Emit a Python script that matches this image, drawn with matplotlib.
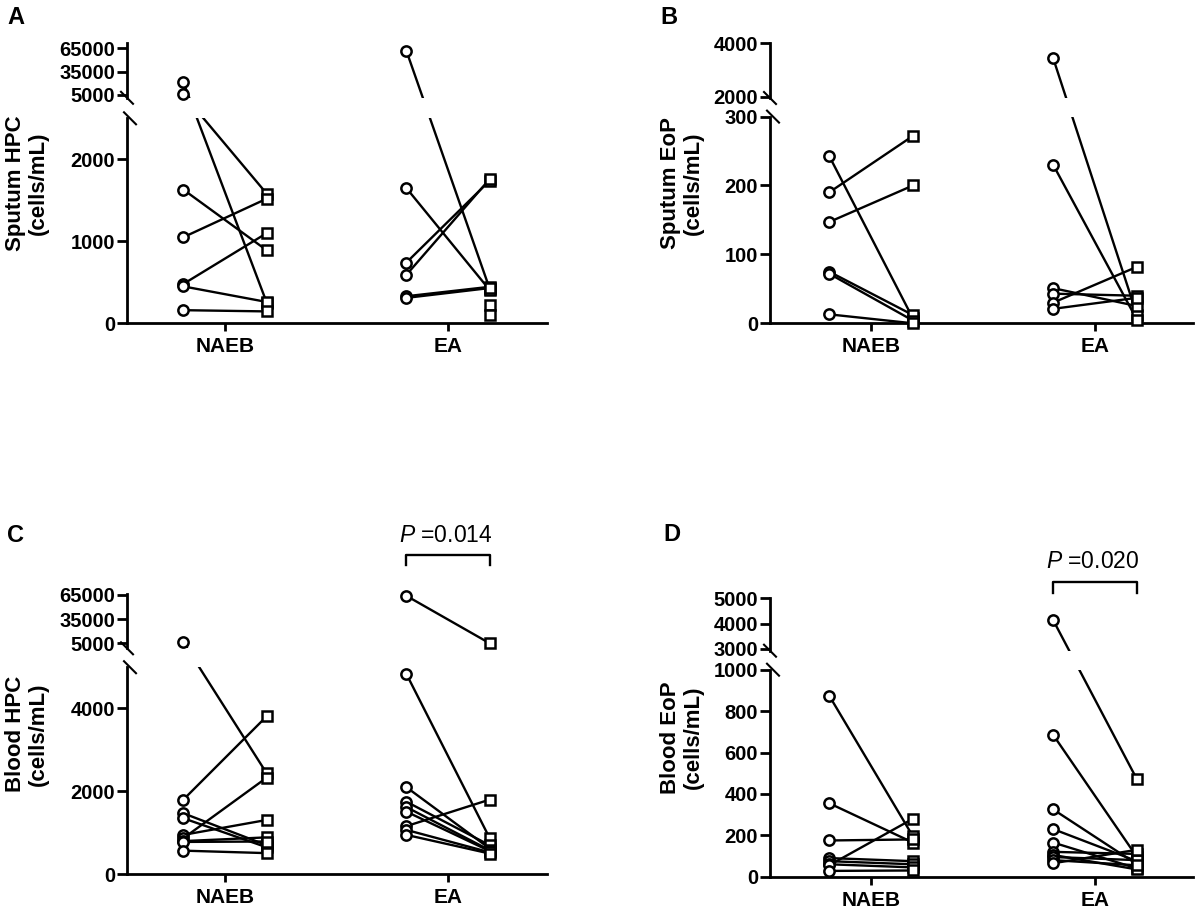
import numpy as np
import matplotlib
matplotlib.use('Agg')
import matplotlib.pyplot as plt
from matplotlib.lines import Line2D
from matplotlib.patches import Rectangle
from matplotlib.ticker import FixedLocator, FixedFormatter

plt.rcParams['font.family'] = ['Liberation Sans', 'DejaVu Sans']
plt.rcParams['mathtext.fontset'] = 'custom'
plt.rcParams['mathtext.it'] = 'Liberation Sans:italic'
plt.rcParams['mathtext.rm'] = 'Liberation Sans'

nan = np.nan
groups = ['NAEB', 'EA']

# ---- Panel A: Sputum HPC ----
a_naeb_pre = [21000, 5400, 1630, 1050, 480, 450, 160]
a_naeb_post = [250, 1580, 890, 1520, 1100, 260, 145]
a_ea_pre = [62000, 1650, 740, 590, 330, 310, nan, nan]
a_ea_post = [420, 405, 1740, 1760, 445, 430, 220, 100]
a_ticks_low = [0, 1000, 2000]
a_ticks_up = [5000, 35000, 65000]

# ---- Panel B: Sputum EoP ----
b_naeb_pre = [243, 190, 147, 75, 72, 13]
b_naeb_post = [7, 272, 200, 12, 4, 0]
b_ea_pre = [3440, 230, 51, 43, 30, 21]
b_ea_post = [12, 5, 25, 40, 82, 37]
b_ticks_low = [0, 100, 200, 300]
b_ticks_up = [2000, 4000]

# ---- Panel C: Blood HPC ----
c_naeb_pre = [6200, 1800, 1470, 1350, 950, 870, 800, 780, 570]
c_naeb_post = [2430, 3810, 700, 650, 1310, 2330, 890, 790, 510]
c_ea_pre = [64000, 4830, 2100, 1750, 1620, 1510, 1160, 1070, 950]
c_ea_post = [5000, 870, 620, 700, 580, 560, 1800, 530, 500]
c_ticks_low = [0, 2000, 4000]
c_ticks_up = [5000, 35000, 65000]
c_pvalue = 'P =0.014'

# ---- Panel D: Blood EoP ----
d_naeb_pre = [875, 355, 175, 90, 75, 60, 55, 28]
d_naeb_post = [195, 165, 180, 75, 60, 45, 280, 30]
d_ea_pre = [4130, 685, 325, 230, 165, 120, 105, 95, 80, 65]
d_ea_post = [470, 95, 60, 75, 40, 110, 35, 80, 55, 130]
d_ticks_low = [0, 200, 400, 600, 800, 1000]
d_ticks_up = [3000, 4000, 5000]
d_pvalue = 'P =0.020'

W, Hf = 1196, 908
fig = plt.figure(figsize=(W / 100, Hf / 100), dpi=100)

OFF = 0.187
LW = 1.7
SPW = 2.0


def make_funcs(lo_top, lo_rate, up_ref, up_ref_h, up_rate, T):
    big = 1e7
    xs = np.array([0.0, lo_top, T, big])
    hs = np.array([0.0, lo_top * lo_rate,
                   up_ref_h + (T - up_ref) * up_rate,
                   up_ref_h + (big - up_ref) * up_rate])

    def fwd(v):
        v = np.asarray(v, dtype=float)
        return np.interp(v, xs, hs)

    def inv(p):
        p = np.asarray(p, dtype=float)
        return np.interp(p, hs, xs)
    return fwd, inv


def panel(rect, pre_n, post_n, pre_e, post_e, scale, ticks_low, ticks_up,
          H, up_start_h, ylabel, xlim, label_x, letter, letter_pos, pval=None):
    l, b, w, h = rect
    ax = fig.add_axes([l / W, b / Hf, w / W, h / Hf])
    fwd, inv = make_funcs(*scale)
    ax.set_yscale('function', functions=(fwd, inv))
    ax.set_ylim(0, inv(H))
    ax.set_xlim(*xlim)
    lo_top = scale[0]
    lo_h = fwd(lo_top)

    for gi, (pre, post) in enumerate([(pre_n, post_n), (pre_e, post_e)]):
        pre = np.asarray(pre, float)
        post = np.asarray(post, float)
        for p0, p1 in zip(pre, post):
            if not (np.isnan(p0) or np.isnan(p1)):
                ax.plot([gi - OFF, gi + OFF], [p0, p1], '-', color='black',
                        lw=LW, zorder=2, solid_capstyle='butt')
        ax.plot(np.full(len(pre), gi - OFF), pre, 'o', ms=7.4, mew=1.8,
                mfc='white', mec='black', ls='none', zorder=3, clip_on=False)
        ax.plot(np.full(len(post), gi + OFF), post, 's', ms=7.2, mew=1.8,
                mfc='white', mec='black', ls='none', zorder=3, clip_on=False)

    # white gap for the axis break
    ax.add_patch(Rectangle((0, lo_h / H), 1, (up_start_h - lo_h) / H,
                           transform=ax.transAxes, facecolor='white',
                           edgecolor='none', zorder=2.2))

    for s in ['top', 'right']:
        ax.spines[s].set_visible(False)
    ax.spines['left'].set_linewidth(SPW)
    ax.spines['bottom'].set_linewidth(SPW)
    ax.spines['left'].set_bounds(0, lo_top)
    ax.add_line(Line2D([0, 0], [up_start_h / H, 1], transform=ax.transAxes,
                       color='black', lw=SPW, clip_on=False, zorder=2.6))
    # break slashes
    s = 6.0
    ax.add_line(Line2D([(0 - s) / w, (0 + s) / w],
                       [(up_start_h + s) / H, (up_start_h - s) / H],
                       transform=ax.transAxes, color='black', lw=1.5,
                       clip_on=False, zorder=2.6))
    ax.add_line(Line2D([(3 - s) / w, (3 + s) / w],
                       [(lo_h + s) / H, (lo_h - s) / H],
                       transform=ax.transAxes, color='black', lw=1.5,
                       clip_on=False, zorder=2.6))

    ticks = list(ticks_low) + list(ticks_up)
    ax.yaxis.set_major_locator(FixedLocator(ticks))
    ax.yaxis.set_major_formatter(FixedFormatter([str(t) for t in ticks]))
    ax.yaxis.set_minor_locator(FixedLocator([]))
    ax.set_xticks([0, 1])
    ax.set_xticklabels(groups)
    ax.tick_params(axis='y', direction='out', length=7, width=SPW,
                   labelsize=14.5, pad=1.5)
    ax.tick_params(axis='x', direction='out', length=6, width=SPW,
                   labelsize=15, pad=4)
    for t in ax.get_yticklabels() + ax.get_xticklabels():
        t.set_fontweight('bold')

    ax.set_ylabel(ylabel, fontsize=16, fontweight='bold', linespacing=1.15,
                  va='center')
    ax.yaxis.set_label_coords(label_x, 0.5)

    fig.text(letter_pos[0] / W, 1 - letter_pos[1] / Hf, letter,
             fontsize=17, fontweight='bold', ha='left', va='baseline')

    if pval is not None:
        text, br_top, br_end, txt_h = pval
        x0, x1 = 1 - OFF, 1 + OFF
        ax.add_line(Line2D([x0, x0, x1, x1],
                           [br_end / H, br_top / H, br_top / H, br_end / H],
                           transform=ax.get_xaxis_transform(), color='black',
                           lw=1.7, clip_on=False))
        ax.text(1 - 0.01, txt_h / H, '$\\mathit{P}$' + text[1:],
                transform=ax.get_xaxis_transform(), ha='center', va='center',
                fontsize=16.5)
    return ax


panel((127, 584.7, 420, 280), a_naeb_pre, a_naeb_post, a_ea_pre, a_ea_post,
      (2500, 0.082, 5000, 228.6, 0.000773, 2600), a_ticks_low, a_ticks_up,
      280, 225.5, 'Sputum HPC\n(cells/mL)', (-0.44, 1.444), -0.238, 'A', (7, 24))
panel((770, 584.7, 423, 280), b_naeb_pre, b_naeb_post, b_ea_pre, b_ea_post,
      (300, 0.689, 2000, 226.6, 0.0267, 1950), b_ticks_low, b_ticks_up,
      280, 225.3, 'Sputum EoP\n(cells/mL)', (-0.451, 1.437), -0.208, 'B', (660, 24))
panel((127, 33.7, 420, 280.5), c_naeb_pre, c_naeb_post, c_ea_pre, c_ea_post,
      (4990, 0.0415, 5000, 231.0, 0.000805, 5000), c_ticks_low, c_ticks_up,
      280.5, 226, 'Blood HPC\n(cells/mL)', (-0.44, 1.444), -0.238, 'C', (7, 542),
      pval=(c_pvalue, 319.3, 309, 339.3))
panel((770, 31.3, 423, 278.7), d_naeb_pre, d_naeb_post, d_ea_pre, d_ea_post,
      (1000, 0.207, 3000, 227.7, 0.0255, 2930), d_ticks_low, d_ticks_up,
      278.7, 226, 'Blood EoP\n(cells/mL)', (-0.451, 1.437), -0.208, 'D', (663, 541),
      pval=(d_pvalue, 295, 283.3, 315))

fig.savefig('out.png', dpi=100, facecolor='white')
